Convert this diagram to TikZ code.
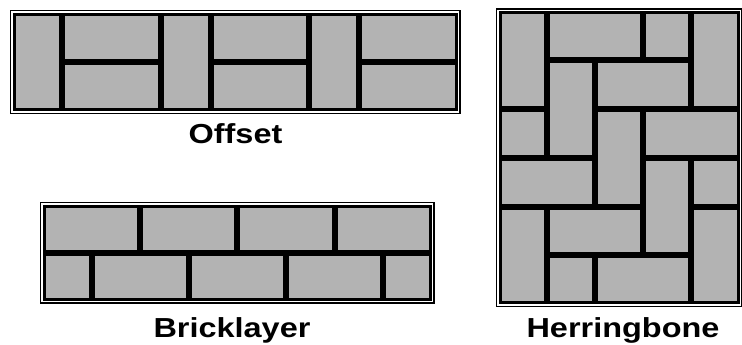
\documentclass[tikz,border=0pt]{standalone}
\usepackage{fontspec}
\setmainfont{Liberation Sans}
\definecolor{brickgray}{RGB}{179,179,179}
\begin{document}
\begin{tikzpicture}[x=1pt,y=-1pt,
  brick/.style={draw=black,fill=brickgray,line width=6pt,line join=miter},
  frameout/.style={draw=black,line width=6.5pt,line join=miter},
  frameline/.style={draw=white,line width=1.1pt,line join=miter},
  caption/.style={font=\bfseries\fontsize{27.5}{30}\selectfont,anchor=base,inner sep=0pt}]
\useasboundingbox (0,0) rectangle (742,345);
% ---------- Offset ----------
\draw[frameout] (13,13) rectangle (457.6,111);
\foreach \a/\b/\c/\d in {0/0/1/2,1/0/3/1,1/1/3/2,3/0/4/2,4/0/6/1,4/1/6/2,6/0/7/2,7/0/9/1,7/1/9/2}
  \draw[brick] ({13+49.4*\a},{13+49*\b}) rectangle ({13+49.4*\c},{13+49*\d});
\draw[frameline] (12,12) rectangle (458.6,112);
% ---------- Bricklayer ----------
\draw[frameout] (43,205) rectangle (431.8,300.5);
\foreach \a/\b/\c/\d in {0/0/2/1,2/0/4/1,4/0/6/1,6/0/8/1,0/1/1/2,1/1/3/2,3/1/5/2,5/1/7/2,7/1/8/2}
  \draw[brick] ({43+48.6*\a},{205+47.75*\b}) rectangle ({43+48.6*\c},{205+47.75*\d});
\draw[frameline] (42,204) rectangle (432.8,301.5);
% ---------- Herringbone ----------
\draw[frameout] (499,11.5) rectangle (739.5,304);
\foreach \a/\b/\c/\d in {0/0/1/2,1/0/3/1,3/0/4/1,4/0/5/2,1/1/2/3,2/1/4/2,0/2/1/3,2/2/3/4,3/2/5/3,0/3/2/4,3/3/4/5,4/3/5/4,0/4/1/6,1/4/3/5,4/4/5/6,1/5/2/6,2/5/4/6}
  \draw[brick] ({499+48.1*\a},{11.5+48.75*\b}) rectangle ({499+48.1*\c},{11.5+48.75*\d});
\draw[frameline] (498,10.5) rectangle (740.5,305);
% ---------- captions ----------
\node[caption] (offset) at (235.5,143) {\scalebox{1.18}[1]{Offset}};
\node[caption] (brick) at (232,337) {\scalebox{1.18}[1]{Bricklayer}};
\node[caption] (herring) at (623,337) {\scalebox{1.18}[1]{Herringbone}};
\end{tikzpicture}
\end{document}
